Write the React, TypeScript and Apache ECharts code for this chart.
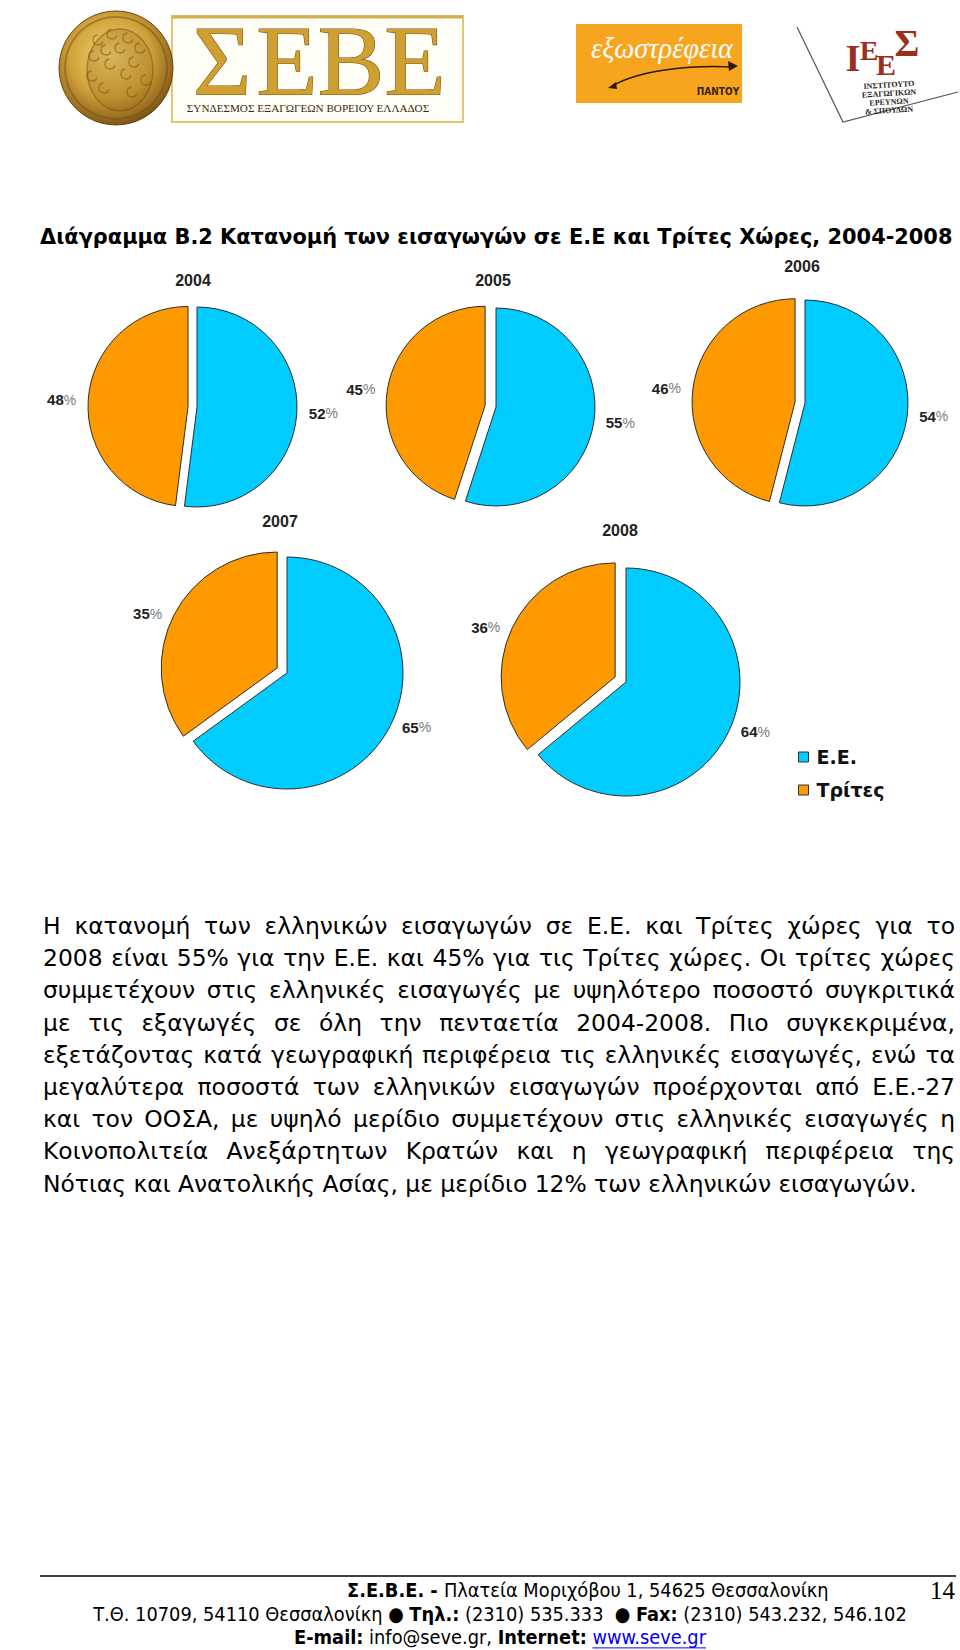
import React, { useEffect, useRef } from 'react';
import * as echarts from 'echarts';

// ---------- data ----------
const years = ['2004', '2005', '2006', '2007', '2008'];
const categories = ['Ε.Ε.', 'Τρίτες'];
const euShare = [52, 55, 54, 65, 64];
const thirdShare = [48, 45, 46, 35, 36];
const sliceColors = ['#00CCFF', '#FF9900'];

const titleText = 'Διάγραμμα Β.2 Κατανομή των εισαγωγών σε Ε.Ε και Τρίτες Χώρες, 2004-2008';

const paragraphLines = [
  'Η κατανομή των ελληνικών εισαγωγών σε Ε.Ε. και Τρίτες χώρες για το',
  '2008 είναι 55% για την Ε.Ε. και 45% για τις Τρίτες χώρες. Οι τρίτες χώρες',
  'συμμετέχουν στις ελληνικές εισαγωγές με υψηλότερο ποσοστό συγκριτικά',
  'με τις εξαγωγές σε όλη την πενταετία 2004-2008. Πιο συγκεκριμένα,',
  'εξετάζοντας κατά γεωγραφική περιφέρεια τις ελληνικές εισαγωγές, ενώ τα',
  'μεγαλύτερα ποσοστά των ελληνικών εισαγωγών προέρχονται από Ε.Ε.-27',
  'και τον ΟΟΣΑ, με υψηλό μερίδιο συμμετέχουν στις ελληνικές εισαγωγές η',
  'Κοινοπολιτεία Ανεξάρτητων Κρατών και η γεωγραφική περιφέρεια της',
  'Νότιας και Ανατολικής Ασίας, με μερίδιο 12% των ελληνικών εισαγωγών.',
];

const footerLines: [string, string][][] = [
  [['Σ.Ε.Β.Ε. - ', 'b'], ['Πλατεία Μοριχόβου 1, 54625 Θεσσαλονίκη', 'n']],
  [
    ['Τ.Θ. 10709, 54110 Θεσσαλονίκη ● ', 'n'],
    ['Τηλ.:', 'b'],
    [' (2310) 535.333  ● ', 'n'],
    ['Fax:', 'b'],
    [' (2310) 543.232, 546.102', 'n'],
  ],
  [['E-mail:', 'b'], [' info@seve.gr, ', 'n'], ['Internet:', 'b'], [' ', 'n'], ['www.seve.gr', 'l']],
];
const pageNumber = '14';

const seveLetters = ['Σ', 'Ε', 'Β', 'Ε'];
const seveCaption = 'ΣΥΝΔΕΣΜΟΣ ΕΞΑΓΩΓΕΩΝ ΒΟΡΕΙΟΥ ΕΛΛΑΔΟΣ';
const exoText = 'εξωστρέφεια';
const exoSub = 'ΠΑΝΤΟΥ';
const iesLetters = ['Ι', 'Ε', 'Ε', 'Σ'];
const iesLines = ['ΙΝΣΤΙΤΟΥΤΟ', 'ΕΞΑΓΩΓΙΚΩΝ', 'ΕΡΕΥΝΩΝ', '& ΣΠΟΥΔΩΝ'];

// ---------- layout ----------
const pieLayout = [
  { cx: 197, cy: 407, r: 100, offset: 9, ty: 282, tx: 193 },
  { cx: 496, cy: 407, r: 99, offset: 11, ty: 282, tx: 493 },
  { cx: 805, cy: 403, r: 103, offset: 10, ty: 268, tx: 802 },
  { cx: 287, cy: 673, r: 116, offset: 11, ty: 523, tx: 280 },
  { cx: 626, cy: 682, r: 114, offset: 12, ty: 532, tx: 620 },
];

const BASE_FONT = '"DejaVu Sans"';
const FOOT_FONT = '"DejaVu Sans Condensed", "DejaVu Sans"';

let ctx: CanvasRenderingContext2D | null = null;
function tw(text: string, font: string) {
  if (!ctx) ctx = document.createElement('canvas').getContext('2d');
  ctx!.font = font;
  return ctx!.measureText(text).width;
}

function txt(text: string, x: number, y: number, font: string, fill: any, align = 'left', extra: any = {}) {
  return {
    type: 'text',
    style: {
      text,
      x,
      y,
      font,
      fill,
      textAlign: align,
      align,
      textVerticalAlign: 'middle',
      verticalAlign: 'middle',
      ...extra,
    },
  };
}

function buildGraphics() {
  const els: any[] = [];

  // ---- SEVE logo ----
  els.push({
    type: 'rect',
    shape: { x: 172, y: 16, width: 291, height: 106 },
    style: { fill: '#FFFEF6', stroke: '#E3C574', lineWidth: 2 },
  });
  els.push({
    type: 'line',
    shape: { x1: 172, y1: 17, x2: 463, y2: 17 },
    style: { stroke: '#D2AE4E', lineWidth: 3 },
  });
  const slots = [222, 287, 351, 415];
  seveLetters.forEach((ch, i) => {
    els.push(
      txt(ch, slots[i], 60, '100px "Liberation Serif"', '#CFA031', 'center', {
        stroke: '#7C5712',
        lineWidth: 1.2,
        shadowColor: 'rgba(90,60,10,0.5)',
        shadowBlur: 2,
        shadowOffsetX: 2,
        shadowOffsetY: 2,
      })
    );
  });
  {
    const base = tw(seveCaption, '11px "Liberation Serif"');
    const size = (11 * 243) / base;
    els.push(txt(seveCaption, 308, 108, `${size.toFixed(2)}px "Liberation Serif"`, '#3B2A10', 'center'));
  }
  // coin
  els.push({
    type: 'circle',
    shape: { cx: 116, cy: 68, r: 57 },
    style: {
      fill: {
        type: 'radial', x: 0.45, y: 0.4, r: 0.65,
        colorStops: [
          { offset: 0, color: '#F2D574' },
          { offset: 0.55, color: '#CFA23A' },
          { offset: 0.85, color: '#94691C' },
          { offset: 1, color: '#5E3F0E' },
        ],
      },
      stroke: '#6A4710',
      lineWidth: 1,
    },
  });
  els.push({
    type: 'ellipse',
    shape: { cx: 120, cy: 70, rx: 33, ry: 41 },
    style: { fill: 'rgba(150,100,25,0.28)', stroke: 'rgba(110,75,20,0.45)', lineWidth: 1.5 },
  });
  const curls = [
    [98, 40], [112, 34], [128, 38], [140, 48], [94, 56], [106, 50], [120, 48], [134, 62], [92, 76], [146, 80],
    [110, 64], [126, 74], [104, 88], [132, 92],
  ];
  curls.forEach(([x, y]) => {
    els.push({
      type: 'arc',
      shape: { cx: x, cy: y, r: 5, startAngle: 0.3, endAngle: 4.6 },
      style: { stroke: 'rgba(120,85,20,0.55)', lineWidth: 1.4, fill: 'none' },
    });
  });
  els.push({
    type: 'circle',
    shape: { cx: 116, cy: 68, r: 51 },
    style: { fill: 'none', stroke: 'rgba(110,75,20,0.45)', lineWidth: 2 },
  });

  // ---- εξωστρέφεια logo ----
  els.push({
    type: 'rect',
    shape: { x: 576, y: 24, width: 166, height: 79 },
    style: { fill: '#F7A51F' },
  });
  {
    const base = tw(exoText, 'italic 28px "Liberation Serif"');
    const size = (28 * 142) / base;
    els.push(txt(exoText, 662, 48, `italic ${size.toFixed(2)}px "Liberation Serif"`, '#FFFFFF', 'center'));
  }
  els.push({
    type: 'bezierCurve',
    shape: { x1: 612, y1: 86, x2: 733, y2: 67, cpx1: 640, cpy1: 70, cpx2: 690, cpy2: 65 },
    style: { stroke: '#2A1A08', lineWidth: 1.5, fill: 'none' },
  });
  els.push({
    type: 'polygon',
    shape: { points: [[738, 66], [728, 61], [729, 71]] },
    style: { fill: '#2A1A08' },
  });
  els.push({
    type: 'polygon',
    shape: { points: [[608, 88], [616, 82], [617, 89]] },
    style: { fill: '#2A1A08' },
  });
  els.push(txt(exoSub, 718, 91, 'bold 10px "DejaVu Sans Condensed", "DejaVu Sans"', '#3A2208', 'center'));

  // ---- IEES logo ----
  els.push({
    type: 'polyline',
    shape: { points: [[797, 27], [843, 122], [958, 92]] },
    style: { stroke: '#555', lineWidth: 1.2, fill: 'none' },
  });
  const iesPos = [
    [853, 58, 38], [869, 50, 28], [886, 64, 30], [907, 43, 38],
  ];
  iesLetters.forEach((ch, i) => {
    const [x, y, s] = iesPos[i];
    els.push(txt(ch, x, y, `bold ${s}px "Liberation Serif"`, '#9C2E1C', 'center'));
  });
  iesLines.forEach((t, i) => {
    const el = txt(t, 0, 0, 'bold 8px "Liberation Serif"', '#222', 'center');
    (el as any).x = 889;
    (el as any).y = 85 + i * 8.5;
    (el as any).rotation = 0.06;
    els.push(el);
  });

  // ---- title ----
  {
    const base = tw(titleText, `bold 20px ${BASE_FONT}`);
    const size = (20 * 913) / base;
    els.push(txt(titleText, 40, 237, `bold ${size.toFixed(2)}px ${BASE_FONT}`, '#000', 'left'));
  }

  // ---- paragraph (justified) ----
  {
    const left = 43;
    const right = 955;
    const last = paragraphLines[paragraphLines.length - 1];
    let size = (20 * 874) / tw(last, `20px ${BASE_FONT}`);
    paragraphLines.slice(0, -1).forEach((line) => {
      const s = (20 * (right - left - 4)) / tw(line, `20px ${BASE_FONT}`);
      if (s < size) size = s;
    });
    const font = `${size.toFixed(2)}px ${BASE_FONT}`;
    const firstY = 926;
    const step = 32.2;
    paragraphLines.forEach((line, i) => {
      const y = firstY + i * step;
      if (i === paragraphLines.length - 1) {
        els.push(txt(line, left, y, font, '#000', 'left'));
        return;
      }
      const words = line.split(' ');
      const widths = words.map((w) => tw(w, font));
      const sum = widths.reduce((a, b) => a + b, 0);
      const gap = (right - left - sum) / (words.length - 1);
      let x = left;
      words.forEach((w, k) => {
        els.push(txt(w, x, y, font, '#000', 'left'));
        x += widths[k] + gap;
      });
    });
  }

  // ---- footer ----
  els.push({
    type: 'line',
    shape: { x1: 40, y1: 1576, x2: 956, y2: 1576 },
    style: { stroke: '#000', lineWidth: 1.5 },
  });
  {
    const segFont = (kind: string, size: number) =>
      `${kind === 'b' ? 'bold ' : ''}${size.toFixed(2)}px ${FOOT_FONT}`;
    const lineW = (segs: [string, string][], size: number) =>
      segs.reduce((a, [t, k]) => a + tw(t, segFont(k, size)), 0);
    const size = (16 * 814) / lineW(footerLines[1], 16);
    const ys = [1590, 1614, 1637];
    footerLines.forEach((segs, i) => {
      const w = lineW(segs, size);
      let x = i === 0 ? 347 : 500 - w / 2;
      segs.forEach(([t, k]) => {
        const sw = tw(t, segFont(k, size));
        els.push(txt(t, x, ys[i], segFont(k, size), k === 'l' ? '#0000EE' : '#000', 'left'));
        if (k === 'l') {
          els.push({
            type: 'line',
            shape: { x1: x, y1: ys[i] + size * 0.55, x2: x + sw, y2: ys[i] + size * 0.55 },
            style: { stroke: '#0000EE', lineWidth: 1 },
          });
        }
        x += sw;
      });
    });
    els.push(txt(pageNumber, 955, 1590, '25px "Liberation Serif"', '#000', 'right'));
  }

  return els;
}

function buildOption() {
  const series = years.map((yr, i) => {
    const L = pieLayout[i];
    return {
      type: 'pie',
      name: yr,
      center: [L.cx, L.cy],
      radius: L.r,
      startAngle: 90,
      clockwise: true,
      selectedMode: 'multiple',
      selectedOffset: L.offset,
      avoidLabelOverlap: false,
      emphasis: { disabled: true },
      itemStyle: { borderColor: '#2E2E2E', borderWidth: 1 },
      label: {
        show: true,
        position: 'outside',
        distanceToLabelLine: 4,
        formatter: (p: any) => `{v|${p.value}}{p|%}`,
        rich: {
          v: { fontFamily: 'Liberation Sans', fontWeight: 'bold', fontSize: 15, color: '#222' },
          p: { fontFamily: 'Liberation Sans', fontSize: 14, color: '#7A7A7A' },
        },
      },
      labelLine: { show: false, length: 3, length2: 5 },
      data: [
        { name: categories[0], value: euShare[i], itemStyle: { color: sliceColors[0] } },
        {
          name: categories[1],
          value: thirdShare[i],
          selected: true,
          itemStyle: { color: sliceColors[1] },
          select: { itemStyle: { color: sliceColors[1], borderColor: '#2E2E2E', borderWidth: 1 } },
        },
      ],
    };
  });

  return {
    animation: false,
    backgroundColor: '#FFFFFF',
    color: sliceColors,
    title: years.map((yr, i) => ({
      text: yr,
      left: pieLayout[i].tx,
      top: pieLayout[i].ty - 10,
      textAlign: 'center',
      padding: 0,
      textStyle: { fontFamily: 'Liberation Sans', fontWeight: 'bold', fontSize: 16, color: '#222' },
    })),
    legend: {
      data: categories,
      orient: 'vertical',
      left: 798,
      top: 747,
      icon: 'rect',
      itemWidth: 10,
      itemHeight: 10,
      itemGap: 13,
      selectedMode: false,
      padding: 0,
      itemStyle: { borderColor: '#333', borderWidth: 1 },
      textStyle: {
        fontFamily: 'DejaVu Sans',
        fontWeight: 'bold',
        fontSize: 19,
        lineHeight: 20,
        color: '#111',
        padding: [0, 0, 0, 3],
      },
    },
    graphic: buildGraphics(),
    series,
  };
}

export default function App() {
  const ref = useRef<HTMLDivElement>(null);
  useEffect(() => {
    if (!ref.current) return;
    const chart = echarts.init(ref.current, null, { renderer: 'svg' });
    chart.setOption(buildOption() as any);
    return () => chart.dispose();
  }, []);
  return (
    <div
      ref={ref}
      style={{ position: 'absolute', left: 0, top: 0, width: 960, height: 1650, background: '#fff' }}
    />
  );
}
